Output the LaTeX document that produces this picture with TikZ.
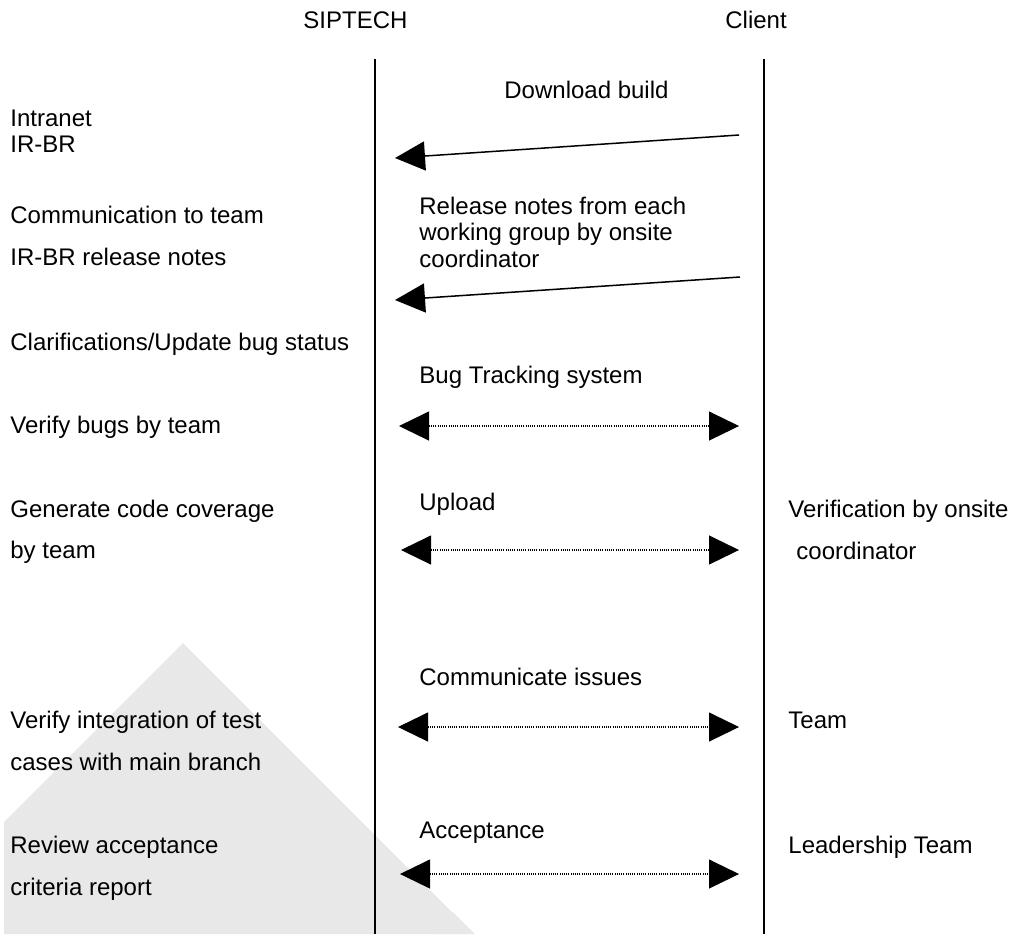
\documentclass[tikz,border=0pt]{standalone}
\usepackage{fontspec}
\setmainfont{Liberation Sans}
\usetikzlibrary{arrows.meta}
\definecolor{wm}{HTML}{E8E8E8}
\begin{document}
\begin{tikzpicture}[x=0.5pt,y=-0.5pt,
  lbl/.style={anchor=base west,inner sep=0pt,font=\fontsize{12}{14}\selectfont},
  lane/.style={line width=0.65pt},
  tip/.style={},
  solidarrow/.style={line width=0.75pt,-{Triangle[length=15pt,width=14.5pt]}},
  dotarrow/.style={line width=0.55pt,dash pattern=on 0.55pt off 0.55pt,
    {Triangle[length=15pt,width=14.5pt]}-{Triangle[length=15pt,width=14.5pt]}},
]
\useasboundingbox (0,0) rectangle (1016,934);
% watermark
\fill[wm] (4,934) -- (4,822) -- (183,643) -- (474,934) -- cycle;
\fill[wm] (431,934) -- (453,912) -- (475,934) -- cycle;

% lanes
\coordinate (l1t) at (375,59);
\coordinate (l1b) at (375,934);
\coordinate (l2t) at (764,59);
\coordinate (l2b) at (764,934);
\draw[lane] (l1t) -- (l1b);
\draw[lane] (l2t) -- (l2b);

% headers
\node[lbl] (siptech) at (303,28) {SIPTECH};
\node[lbl] (client) at (725,28) {Client};

% left column
\node[lbl] (t1) at (10,126) {Intranet};
\node[lbl] (t2) at (10,152) {IR-BR};
\node[lbl] (t3) at (10,223) {Communication to team};
\node[lbl] (t4) at (10,265) {IR-BR release notes};
\node[lbl] (t5) at (10,350) {Clarifications/Update bug status};
\node[lbl] (t6) at (10,433) {Verify bugs by team};
\node[lbl] (t7) at (10,517) {Generate code coverage};
\node[lbl] (t8) at (10,558) {by team};
\node[lbl] (t9) at (10,728) {Verify integration of test};
\node[lbl] (t10) at (10,770) {cases with main branch};
\node[lbl] (t11) at (10,853) {Review acceptance};
\node[lbl] (t12) at (10,895) {criteria report};

% middle column
\node[lbl] (m1) at (504,98) {Download build};
\node[lbl] (m2) at (419,214) {Release notes from each};
\node[lbl] (m3) at (419,240) {working group by onsite};
\node[lbl] (m4) at (419,267) {coordinator};
\node[lbl] (m5) at (419,383) {Bug Tracking system};
\node[lbl] (m6) at (419,510) {Upload};
\node[lbl] (m7) at (419,685) {Communicate issues};
\node[lbl] (m8) at (419,838) {Acceptance};

% right column
\node[lbl] (r1) at (788,517) {Verification by onsite};
\node[lbl] (r2) at (796,559) {coordinator};
\node[lbl] (r3) at (788,728) {Team};
\node[lbl] (r4) at (788,853) {Leadership Team};

% arrows
\coordinate (a1s) at (739,135);
\coordinate (a1e) at (395,158);
\coordinate (a2s) at (740,277);
\coordinate (a2e) at (395,300);
\draw[solidarrow] (a1s) -- (a1e);
\draw[solidarrow] (a2s) -- (a2e);

\coordinate (d1l) at (399,426);
\coordinate (d1r) at (739,426);
\coordinate (d2l) at (401,550);
\coordinate (d2r) at (739,550);
\coordinate (d3l) at (398,727);
\coordinate (d3r) at (739,727);
\coordinate (d4l) at (400,874);
\coordinate (d4r) at (739,874);
\draw[dotarrow] (d1l) -- (d1r);
\draw[dotarrow] (d2l) -- (d2r);
\draw[dotarrow] (d3l) -- (d3r);
\draw[dotarrow] (d4l) -- (d4r);
\end{tikzpicture}
\end{document}
